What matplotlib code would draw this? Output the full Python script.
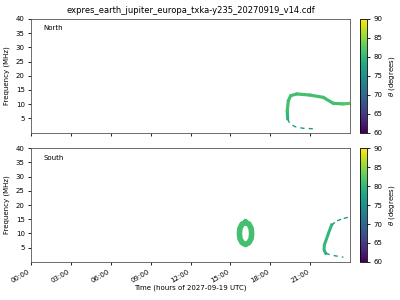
import numpy as np
import matplotlib
matplotlib.use("Agg")
import matplotlib.pyplot as plt
from matplotlib import cm, colors

title = "expres_earth_jupiter_europa_txka-y235_20270919_v14.cdf"
hour_ticks = [0, 3, 6, 9, 12, 15, 18, 21]
hour_labels = ["00:00", "03:00", "06:00", "09:00", "12:00", "15:00", "18:00", "21:00"]
freq_ticks = [5, 10, 15, 20, 25, 30, 35, 40]
theta_ticks = [60, 65, 70, 75, 80, 85, 90]

# North hemisphere: main arc (hours, MHz, theta)
north_arc_t = [19.31, 19.28, 19.36, 19.54, 19.99, 20.99, 21.99, 22.74, 23.5, 24.0]
north_arc_f = [4.8, 7.7, 11.2, 13.0, 13.6, 13.2, 12.4, 10.3, 10.1, 10.3]
north_arc_th = [80, 81, 81, 81, 81, 81, 81, 81, 82, 82]
# North tail (sparse)
north_tail_t = [19.31, 19.49, 19.86, 20.49, 21.49]
north_tail_f = [4.8, 3.05, 2.1, 1.5, 1.3]
north_tail_th = 76

# South hemisphere: closed oval
south_oval_t = [16.14, 16.40, 16.56, 16.60, 16.56, 16.40, 16.14, 15.88, 15.72, 15.68, 15.72, 15.88, 16.14]
south_oval_f = [13.9, 13.3, 11.8, 10.0, 8.2, 6.8, 6.1, 6.8, 8.2, 10.0, 11.8, 13.3, 13.9]
south_oval_th = 81
# South arc
south_arc_t = [22.62, 22.42, 22.25, 22.07, 22.05, 22.17]
south_arc_f = [13.0, 10.6, 8.3, 6.0, 4.2, 3.05]
south_arc_th = 80
south_upper_t = [22.62, 23.0, 23.38, 24.0]
south_upper_f = [13.0, 14.4, 15.1, 15.9]
south_lower_t = [22.17, 22.5, 22.93, 23.5]
south_lower_f = [3.05, 2.5, 2.1, 1.65]
south_tail_th = 76

cmap = cm.viridis
norm = colors.Normalize(vmin=60, vmax=90)

fig = plt.figure(figsize=(4, 3), dpi=100)
ax1 = fig.add_axes([0.0775, 0.558, 0.7975, 0.379])
ax2 = fig.add_axes([0.0775, 0.127, 0.7975, 0.379], sharex=ax1)
cax1 = fig.add_axes([0.901, 0.558, 0.0175, 0.379])
cax2 = fig.add_axes([0.901, 0.127, 0.0175, 0.379])

# north
for i in range(len(north_arc_t) - 1):
    ax1.plot(north_arc_t[i:i + 2], north_arc_f[i:i + 2], color=cmap(norm(north_arc_th[i])),
             lw=2.3, solid_capstyle="round")
ax1.plot(north_tail_t, north_tail_f, color=cmap(norm(north_tail_th)), lw=1.0,
         ls=(0, (3, 3)))

# south
ax2.plot(south_oval_t, south_oval_f, color=cmap(norm(south_oval_th)), lw=4.0)
ax2.plot(south_arc_t, south_arc_f, color=cmap(norm(south_arc_th)), lw=2.2)
ax2.plot(south_upper_t, south_upper_f, color=cmap(norm(south_tail_th)), lw=1.0, ls=(0, (3, 2)))
ax2.plot(south_lower_t, south_lower_f, color=cmap(norm(south_tail_th)), lw=1.0, ls=(0, (3, 3)))

for ax, name, cax in [(ax1, "North", cax1), (ax2, "South", cax2)]:
    ax.set_xlim(0, 24)
    ax.set_ylim(0, 40)
    ax.set_yticks(freq_ticks)
    ax.set_ylabel("Frequency (MHz)", fontsize=5)
    ax.tick_params(labelsize=5, length=2.5, width=0.6, pad=2)
    ax.text(0.04, 0.9, name, transform=ax.transAxes, fontsize=5)
    for s in ax.spines.values():
        s.set_linewidth(0.6)
        s.set_color("#555555")
    cb = fig.colorbar(cm.ScalarMappable(norm=norm, cmap=cmap), cax=cax)
    cb.set_ticks(theta_ticks)
    cb.ax.tick_params(labelsize=5, length=2.5, width=0.6, pad=2)
    cb.outline.set_linewidth(0.6)
    cb.set_label(r"$\theta$ (degrees)", fontsize=5, labelpad=3)

ax2.set_xticks(hour_ticks)
ax2.set_xticklabels(hour_labels, rotation=30, ha="right")
plt.setp(ax1.get_xticklabels(), visible=False)
ax2.set_xlabel("Time (hours of 2027-09-19 UTC)", fontsize=5, labelpad=1)
ax1.set_title(title, fontsize=6, pad=4)

fig.savefig("out.png", dpi=100)
